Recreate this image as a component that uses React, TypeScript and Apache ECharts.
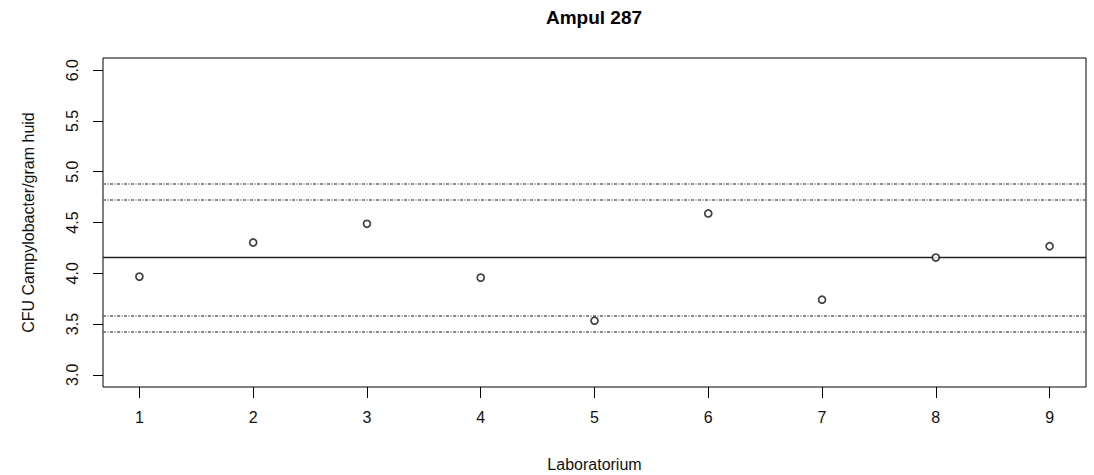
import React, { useEffect, useRef } from "react";
import * as echarts from "echarts";

const laboratories = [1, 2, 3, 4, 5, 6, 7, 8, 9];
const values = [3.967, 4.303, 4.487, 3.957, 3.533, 4.589, 3.74, 4.155, 4.266];
const medianLine = 4.155;
const dashedLines = [4.875, 4.717, 3.582, 3.424];
const xTicks = [1, 2, 3, 4, 5, 6, 7, 8, 9];
const yTicks = [3.0, 3.5, 4.0, 4.5, 5.0, 5.5, 6.0];
const title = "Ampul 287";
const xName = "Laboratorium";
const yName = "CFU Campylobacter/gram huid";

const FONT = "Liberation Sans, Arial, sans-serif";

export default function App() {
  const ref = useRef<HTMLDivElement>(null);
  useEffect(() => {
    if (!ref.current) return;
    const chart = echarts.init(ref.current, null, { renderer: "svg" });
    chart.setOption({
      animation: false,
      backgroundColor: "#fff",
      textStyle: { fontFamily: FONT },
      grid: {
        left: 103,
        right: 8,
        top: 58,
        bottom: 88,
        show: true,
        borderColor: "#000",
        borderWidth: 1,
        containLabel: false,
        outerBoundsMode: "none",
      },
      graphic: [
        {
          type: "text",
          x: 594,
          y: 17,
          style: {
            text: title,
            fontFamily: FONT,
            fontWeight: "bold",
            fontSize: 19,
            fill: "#000",
            textAlign: "center",
            textVerticalAlign: "middle",
          },
        },
      ],
      xAxis: {
        type: "value",
        min: 0.68,
        max: 9.32,
        name: xName,
        nameLocation: "middle",
        nameGap: 69,
        nameTextStyle: { fontFamily: FONT, fontSize: 16, color: "#111" },
        axisLine: { show: false },
        splitLine: { show: false },
        axisTick: {
          show: true,
          length: 11,
          customValues: xTicks,
          lineStyle: { color: "#000" },
        },
        axisLabel: {
          customValues: xTicks,
          margin: 22,
          fontFamily: FONT,
          fontSize: 16,
          color: "#111",
        },
      },
      yAxis: {
        type: "value",
        min: 2.88,
        max: 6.12,
        name: yName,
        nameLocation: "middle",
        nameGap: 67,
        nameTextStyle: { fontFamily: FONT, fontSize: 16, color: "#111" },
        axisLine: { show: false },
        splitLine: { show: false },
        axisTick: {
          show: true,
          length: 10,
          customValues: yTicks,
          lineStyle: { color: "#000" },
        },
        axisLabel: {
          customValues: yTicks,
          rotate: 90,
          margin: 23,
          fontFamily: FONT,
          fontSize: 16,
          color: "#111",
          formatter: (v: number) => v.toFixed(1),
        },
      },
      series: [
        {
          type: "scatter",
          data: laboratories.map((l, i) => [l, values[i]]),
          symbol: "circle",
          symbolSize: 7,
          itemStyle: { color: "#fff", borderColor: "#111", borderWidth: 1.7 },
          z: 5,
          markLine: {
            silent: true,
            symbol: "none",
            label: { show: false },
            data: [
              { yAxis: medianLine, lineStyle: { type: "solid", color: "#222", width: 1.4 } },
              ...dashedLines.map((v) => ({
                yAxis: v,
                lineStyle: { type: [3, 1.5, 1, 1.5], color: "#666", width: 1.5 },
              })),
            ],
          },
        },
      ],
    });
    return () => chart.dispose();
  }, []);
  return (
    <div
      ref={ref}
      style={{ position: "fixed", left: 0, top: 0, width: 1094, height: 475 }}
    />
  );
}
